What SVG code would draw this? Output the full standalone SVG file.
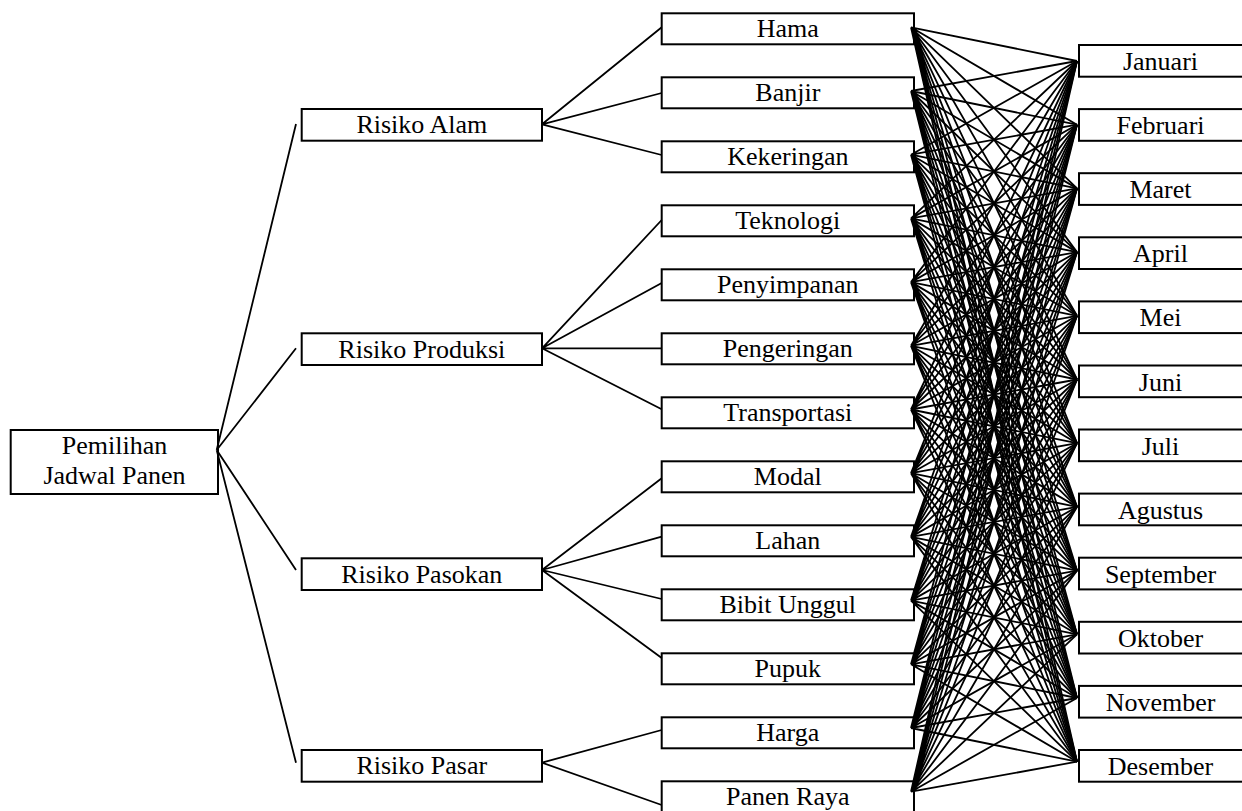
<svg xmlns="http://www.w3.org/2000/svg" width="1242" height="811" viewBox="0 0 1242 811">
<style>
.b{fill:#fff;stroke:#000;stroke-width:2}
.t{font-family:"Liberation Serif","Times New Roman",serif;font-size:26px;text-anchor:middle;fill:#000}
.c{stroke:#000;stroke-width:1.8;fill:none}
</style>
<rect width="1242" height="811" fill="#fff"/>
<g id="root"><rect class="b" x="10.7" y="430" width="207.3" height="64"/><text class="t" x="114.5" y="454.3">Pemilihan</text><text class="t" x="114.5" y="484">Jadwal Panen</text></g>
<g id="risiko-alam"><rect class="b" x="301.7" y="109" width="240.3" height="31.7"/><text class="t" x="421.8" y="133.3">Risiko Alam</text></g>
<g id="risiko-produksi"><rect class="b" x="301.7" y="333.3" width="240.3" height="31.7"/><text class="t" x="421.8" y="357.6">Risiko Produksi</text></g>
<g id="risiko-pasokan"><rect class="b" x="301.7" y="558.3" width="240.3" height="31.7"/><text class="t" x="421.8" y="582.6">Risiko Pasokan</text></g>
<g id="risiko-pasar"><rect class="b" x="301.7" y="750" width="240.3" height="31.7"/><text class="t" x="421.8" y="774.3">Risiko Pasar</text></g>
<g id="hama"><rect class="b" x="661.7" y="13.3" width="252.3" height="31"/><text class="t" x="787.8" y="37.3">Hama</text></g>
<g id="banjir"><rect class="b" x="661.7" y="77.3" width="252.3" height="31"/><text class="t" x="787.8" y="101.3">Banjir</text></g>
<g id="kekeringan"><rect class="b" x="661.7" y="141.3" width="252.3" height="31"/><text class="t" x="787.8" y="165.3">Kekeringan</text></g>
<g id="teknologi"><rect class="b" x="661.7" y="205.3" width="252.3" height="31"/><text class="t" x="787.8" y="229.3">Teknologi</text></g>
<g id="penyimpanan"><rect class="b" x="661.7" y="269.3" width="252.3" height="31"/><text class="t" x="787.8" y="293.3">Penyimpanan</text></g>
<g id="pengeringan"><rect class="b" x="661.7" y="333.3" width="252.3" height="31"/><text class="t" x="787.8" y="357.3">Pengeringan</text></g>
<g id="transportasi"><rect class="b" x="661.7" y="397.3" width="252.3" height="31"/><text class="t" x="787.8" y="421.3">Transportasi</text></g>
<g id="modal"><rect class="b" x="661.7" y="461.3" width="252.3" height="31"/><text class="t" x="787.8" y="485.3">Modal</text></g>
<g id="lahan"><rect class="b" x="661.7" y="525.3" width="252.3" height="31"/><text class="t" x="787.8" y="549.3">Lahan</text></g>
<g id="bibit-unggul"><rect class="b" x="661.7" y="589.3" width="252.3" height="31"/><text class="t" x="787.8" y="613.3">Bibit Unggul</text></g>
<g id="pupuk"><rect class="b" x="661.7" y="653.3" width="252.3" height="31"/><text class="t" x="787.8" y="677.3">Pupuk</text></g>
<g id="harga"><rect class="b" x="661.7" y="717.3" width="252.3" height="31"/><text class="t" x="787.8" y="741.3">Harga</text></g>
<g id="panen-raya"><rect class="b" x="661.7" y="781.3" width="252.3" height="31"/><text class="t" x="787.8" y="805.3">Panen Raya</text></g>
<g id="januari"><rect class="b" x="1079" y="45" width="164" height="31.7"/><text class="t" x="1160.5" y="70">Januari</text></g>
<g id="februari"><rect class="b" x="1079" y="109.1" width="164" height="31.7"/><text class="t" x="1160.5" y="134.1">Februari</text></g>
<g id="maret"><rect class="b" x="1079" y="173.2" width="164" height="31.7"/><text class="t" x="1160.5" y="198.2">Maret</text></g>
<g id="april"><rect class="b" x="1079" y="237.3" width="164" height="31.7"/><text class="t" x="1160.5" y="262.3">April</text></g>
<g id="mei"><rect class="b" x="1079" y="301.4" width="164" height="31.7"/><text class="t" x="1160.5" y="326.4">Mei</text></g>
<g id="juni"><rect class="b" x="1079" y="365.5" width="164" height="31.7"/><text class="t" x="1160.5" y="390.5">Juni</text></g>
<g id="juli"><rect class="b" x="1079" y="429.5" width="164" height="31.7"/><text class="t" x="1160.5" y="454.5">Juli</text></g>
<g id="agustus"><rect class="b" x="1079" y="493.6" width="164" height="31.7"/><text class="t" x="1160.5" y="518.6">Agustus</text></g>
<g id="september"><rect class="b" x="1079" y="557.7" width="164" height="31.7"/><text class="t" x="1160.5" y="582.7">September</text></g>
<g id="oktober"><rect class="b" x="1079" y="621.8" width="164" height="31.7"/><text class="t" x="1160.5" y="646.8">Oktober</text></g>
<g id="november"><rect class="b" x="1079" y="685.9" width="164" height="31.7"/><text class="t" x="1160.5" y="710.9">November</text></g>
<g id="desember"><rect class="b" x="1079" y="750" width="164" height="31.7"/><text class="t" x="1160.5" y="775">Desember</text></g>
<g id="connectors" class="c">
<path d="M216.7 450L296 124M216.7 450L296 348.3M216.7 450L296 570M216.7 450L296 762.7"/>
<path d="M542 124.3L661.7 27.3M542 124.3L661.7 93M542 124.3L661.7 155"/>
<path d="M542 348.3L661.7 220M542 348.3L661.7 283M542 348.3L661.7 348.3M542 348.3L661.7 409.3"/>
<path d="M542 570L661.7 478.3M542 570L661.7 536.7M542 570L661.7 599M542 570L661.7 658"/>
<path d="M542 762.7L661.7 730M542 762.7L661.7 805"/>
<path d="M911 27.3L1077 61M911 27.3L1077 124.7M911 27.3L1077 188.4M911 27.3L1077 252.1M911 27.3L1077 315.8M911 27.3L1077 379.5M911 27.3L1077 443.2M911 27.3L1077 506.9M911 27.3L1077 570.6M911 27.3L1077 634.3M911 27.3L1077 698M911 27.3L1077 761.7"/>
<path d="M911 91L1077 61M911 91L1077 124.7M911 91L1077 188.4M911 91L1077 252.1M911 91L1077 315.8M911 91L1077 379.5M911 91L1077 443.2M911 91L1077 506.9M911 91L1077 570.6M911 91L1077 634.3M911 91L1077 698M911 91L1077 761.7"/>
<path d="M911 154.7L1077 61M911 154.7L1077 124.7M911 154.7L1077 188.4M911 154.7L1077 252.1M911 154.7L1077 315.8M911 154.7L1077 379.5M911 154.7L1077 443.2M911 154.7L1077 506.9M911 154.7L1077 570.6M911 154.7L1077 634.3M911 154.7L1077 698M911 154.7L1077 761.7"/>
<path d="M911 218.4L1077 61M911 218.4L1077 124.7M911 218.4L1077 188.4M911 218.4L1077 252.1M911 218.4L1077 315.8M911 218.4L1077 379.5M911 218.4L1077 443.2M911 218.4L1077 506.9M911 218.4L1077 570.6M911 218.4L1077 634.3M911 218.4L1077 698M911 218.4L1077 761.7"/>
<path d="M911 282.1L1077 61M911 282.1L1077 124.7M911 282.1L1077 188.4M911 282.1L1077 252.1M911 282.1L1077 315.8M911 282.1L1077 379.5M911 282.1L1077 443.2M911 282.1L1077 506.9M911 282.1L1077 570.6M911 282.1L1077 634.3M911 282.1L1077 698M911 282.1L1077 761.7"/>
<path d="M911 345.8L1077 61M911 345.8L1077 124.7M911 345.8L1077 188.4M911 345.8L1077 252.1M911 345.8L1077 315.8M911 345.8L1077 379.5M911 345.8L1077 443.2M911 345.8L1077 506.9M911 345.8L1077 570.6M911 345.8L1077 634.3M911 345.8L1077 698M911 345.8L1077 761.7"/>
<path d="M911 409.5L1077 61M911 409.5L1077 124.7M911 409.5L1077 188.4M911 409.5L1077 252.1M911 409.5L1077 315.8M911 409.5L1077 379.5M911 409.5L1077 443.2M911 409.5L1077 506.9M911 409.5L1077 570.6M911 409.5L1077 634.3M911 409.5L1077 698M911 409.5L1077 761.7"/>
<path d="M911 473.2L1077 61M911 473.2L1077 124.7M911 473.2L1077 188.4M911 473.2L1077 252.1M911 473.2L1077 315.8M911 473.2L1077 379.5M911 473.2L1077 443.2M911 473.2L1077 506.9M911 473.2L1077 570.6M911 473.2L1077 634.3M911 473.2L1077 698M911 473.2L1077 761.7"/>
<path d="M911 536.9L1077 61M911 536.9L1077 124.7M911 536.9L1077 188.4M911 536.9L1077 252.1M911 536.9L1077 315.8M911 536.9L1077 379.5M911 536.9L1077 443.2M911 536.9L1077 506.9M911 536.9L1077 570.6M911 536.9L1077 634.3M911 536.9L1077 698M911 536.9L1077 761.7"/>
<path d="M911 600.6L1077 61M911 600.6L1077 124.7M911 600.6L1077 188.4M911 600.6L1077 252.1M911 600.6L1077 315.8M911 600.6L1077 379.5M911 600.6L1077 443.2M911 600.6L1077 506.9M911 600.6L1077 570.6M911 600.6L1077 634.3M911 600.6L1077 698M911 600.6L1077 761.7"/>
<path d="M911 664.3L1077 61M911 664.3L1077 124.7M911 664.3L1077 188.4M911 664.3L1077 252.1M911 664.3L1077 315.8M911 664.3L1077 379.5M911 664.3L1077 443.2M911 664.3L1077 506.9M911 664.3L1077 570.6M911 664.3L1077 634.3M911 664.3L1077 698M911 664.3L1077 761.7"/>
<path d="M911 728L1077 61M911 728L1077 124.7M911 728L1077 188.4M911 728L1077 252.1M911 728L1077 315.8M911 728L1077 379.5M911 728L1077 443.2M911 728L1077 506.9M911 728L1077 570.6M911 728L1077 634.3M911 728L1077 698M911 728L1077 761.7"/>
<path d="M911 791.7L1077 61M911 791.7L1077 124.7M911 791.7L1077 188.4M911 791.7L1077 252.1M911 791.7L1077 315.8M911 791.7L1077 379.5M911 791.7L1077 443.2M911 791.7L1077 506.9M911 791.7L1077 570.6M911 791.7L1077 634.3M911 791.7L1077 698M911 791.7L1077 761.7"/>
</g>
</svg>
